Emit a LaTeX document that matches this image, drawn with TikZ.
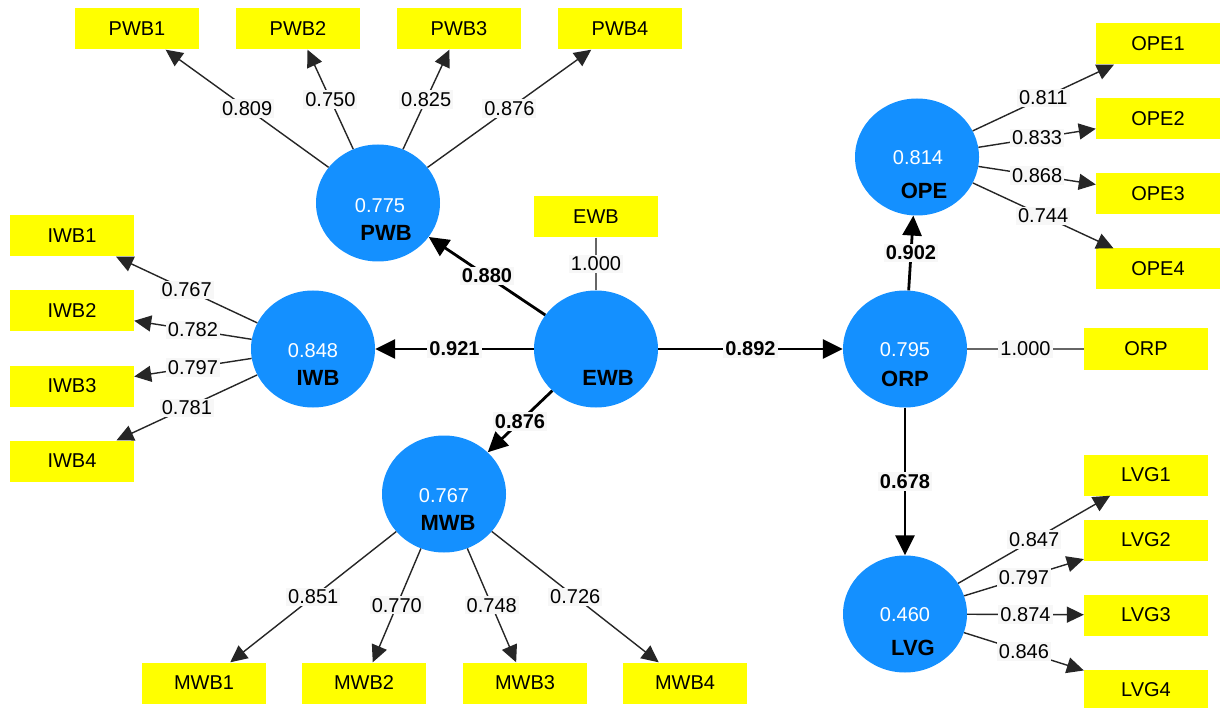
\documentclass[tikz,border=0pt]{standalone}
\usepackage{fontspec}
\setmainfont{Liberation Sans}
\usetikzlibrary{arrows.meta,shapes.geometric,calc}
\definecolor{lvblue}{RGB}{20,144,255}
\definecolor{indyellow}{RGB}{255,255,0}
\definecolor{lblbg}{RGB}{247,247,247}
\begin{document}
\begin{tikzpicture}[x=1pt,y=-1pt,
 ind/.style={fill=indyellow, minimum width=124pt, minimum height=41pt, inner sep=0pt, font=\fontsize{20}{24}\selectfont},
 lat/.style={ellipse, fill=lvblue, minimum width=124pt, minimum height=117pt, inner sep=0pt},
 val/.style={text=white, inner sep=0pt, font=\fontsize{20}{24}\selectfont},
 nm/.style={inner sep=0pt, font=\bfseries\fontsize{22}{24}\selectfont},
 ld/.style={draw=black!85, line width=1.4pt, -{Triangle[length=17pt,width=16pt]}},
 sing/.style={draw=black!60, line width=1.4pt},
 pth/.style={draw=black, line width=2.8pt, -{Triangle[length=20pt,width=19pt]}},
 lbl/.style={fill=lblbg, inner sep=2pt, font=\fontsize{20}{24}\selectfont},
 blbl/.style={fill=lblbg, inner sep=2pt, font=\bfseries\fontsize{20}{24}\selectfont}]
\useasboundingbox[fill=white] (0,0) rectangle (1220,708);

% latent variables
\node[lat] (PWB) at (378,203) {};
\node[lat] (IWB) at (313,349) {};
\node[lat] (EWB) at (596,349) {};
\node[lat] (MWB) at (444,494) {};
\node[lat] (OPE) at (917,157) {};
\node[lat] (ORP) at (905,349) {};
\node[lat] (LVG) at (905,614) {};

% indicators
\node[ind] (PWB1) at (137,29) {PWB1};
\node[ind] (PWB2) at (298,29) {PWB2};
\node[ind] (PWB3) at (459,29) {PWB3};
\node[ind] (PWB4) at (620,29) {PWB4};
\node[ind] (IWB1) at (72,236) {IWB1};
\node[ind] (IWB2) at (72,311) {IWB2};
\node[ind] (IWB3) at (72,386) {IWB3};
\node[ind] (IWB4) at (72,461) {IWB4};
\node[ind] (MWB1) at (204,683) {MWB1};
\node[ind] (MWB2) at (364,683) {MWB2};
\node[ind] (MWB3) at (525,683) {MWB3};
\node[ind] (MWB4) at (685,683) {MWB4};
\node[ind] (EWBi) at (596,217) {EWB};
\node[ind] (OPE1) at (1158,44) {OPE1};
\node[ind] (OPE2) at (1158,119) {OPE2};
\node[ind] (OPE3) at (1158,194) {OPE3};
\node[ind] (OPE4) at (1158,269) {OPE4};
\node[ind] (ORPi) at (1146,349) {ORP};
\node[ind] (LVG1) at (1146,475) {LVG1};
\node[ind] (LVG2) at (1146,540) {LVG2};
\node[ind] (LVG3) at (1146,615) {LVG3};
\node[ind] (LVG4) at (1146,690) {LVG4};

% texts inside latent variables
\node[val] (vPWB) at ($(PWB)+(2,3)$) {0.775};
\node[nm]  (nPWB) at ($(PWB)+(8,30)$) {PWB};
\node[val] (vIWB) at ($(IWB)+(0,2)$) {0.848};
\node[nm]  (nIWB) at ($(IWB)+(5,29)$) {IWB};
\node[nm]  (nEWB) at ($(EWB)+(12,29)$) {EWB};
\node[val] (vMWB) at ($(MWB)+(0,2)$) {0.767};
\node[nm]  (nMWB) at ($(MWB)+(4,29)$) {MWB};
\node[val] (vOPE) at ($(OPE)+(1,1)$) {0.814};
\node[nm]  (nOPE) at ($(OPE)+(7,34)$) {OPE};
\node[val] (vORP) at ($(ORP)+(0,1)$) {0.795};
\node[nm]  (nORP) at ($(ORP)+(0,30)$) {ORP};
\node[val] (vLVG) at ($(LVG)+(0,1)$) {0.460};
\node[nm]  (nLVG) at ($(LVG)+(8,34)$) {LVG};

% outer loadings
\draw[ld] (PWB) -- node[lbl]{0.809} (PWB1);
\draw[ld] (PWB) -- node[lbl]{0.750} (PWB2);
\draw[ld] (PWB) -- node[lbl]{0.825} (PWB3);
\draw[ld] (PWB) -- node[lbl]{0.876} (PWB4);
\draw[ld] (IWB) -- node[lbl]{0.767} (IWB1);
\draw[ld] (IWB) -- node[lbl]{0.782} (IWB2);
\draw[ld] (IWB) -- node[lbl]{0.797} (IWB3);
\draw[ld] (IWB) -- node[lbl]{0.781} (IWB4);
\draw[ld] (MWB) -- node[lbl]{0.851} (MWB1);
\draw[ld] (MWB) -- node[lbl]{0.770} (MWB2);
\draw[ld] (MWB) -- node[lbl]{0.748} (MWB3);
\draw[ld] (MWB) -- node[lbl]{0.726} (MWB4);
\draw[ld] (OPE) -- node[lbl]{0.811} (OPE1);
\draw[ld] (OPE) -- node[lbl]{0.833} (OPE2);
\draw[ld] (OPE) -- node[lbl]{0.868} (OPE3);
\draw[ld] (OPE) -- node[lbl]{0.744} (OPE4);
\draw[ld] (LVG) -- node[lbl]{0.847} (LVG1);
\draw[ld] (LVG) -- node[lbl]{0.797} (LVG2);
\draw[ld] (LVG) -- node[lbl]{0.874} (LVG3);
\draw[ld] (LVG) -- node[lbl]{0.846} (LVG4);
\draw[sing] (EWBi) -- node[lbl]{1.000} (EWB);
\draw[sing] (ORP) -- node[lbl]{1.000} (ORPi);

% structural paths
\draw[pth] (EWB) -- node[blbl]{0.880} (PWB);
\draw[pth] (EWB) -- node[blbl]{0.921} (IWB);
\draw[pth] (EWB) -- node[blbl]{0.876} (MWB);
\draw[pth] (EWB) -- node[blbl]{0.892} (ORP);
\draw[pth] (ORP) -- node[blbl]{0.902} (OPE);
\draw[pth] (ORP) -- node[blbl]{0.678} (LVG);
\end{tikzpicture}
\end{document}
